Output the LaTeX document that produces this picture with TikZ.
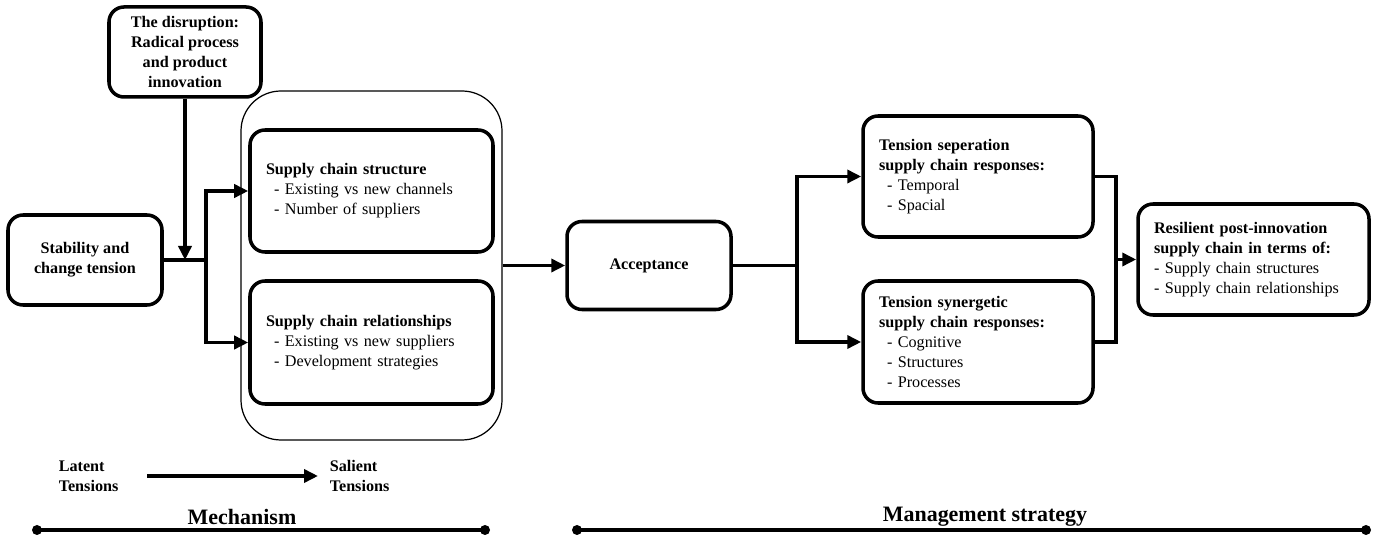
\documentclass[tikz,border=0pt]{standalone}
\usepackage{fontspec}
\setmainfont{Liberation Serif}
\usetikzlibrary{positioning,arrows.meta}

\begin{document}
\begin{tikzpicture}[>={Triangle[length=0.28cm,width=0.26cm]},line width=2pt,
  font=\fontsize{9.2}{11.4}\selectfont,
  box/.style={draw,rounded corners=0.3cm,align=center,font=\bfseries\fontsize{9.2}{11.4}\selectfont},
  list/.style={draw,rounded corners=0.3cm,align=left,inner xsep=0.32cm,text width=#1},
  tag/.style={align=left,inner sep=0pt,font=\bfseries\fontsize{9.2}{11.4}\selectfont},
  phase/.style={font=\bfseries\fontsize{12.5}{14}\selectfont}]
  \useasboundingbox (0,0) rectangle (27.54,-10.78);
  % mechanism side
  \node[box,minimum width=3.08cm,minimum height=1.8cm] (stab) at (1.70,-5.20) {Stability and\\change tension};
  \node[box,minimum width=3.04cm,minimum height=1.8cm] (dis) at (3.70,-1.04) {The disruption:\\Radical process\\and product\\innovation};
  \node[draw,line width=0.7pt,rounded corners=0.8cm,minimum width=5.22cm,minimum height=6.98cm] (outer) at (7.43,-5.31) {};
  \node[list=4.22cm,minimum height=2.44cm] (scs) at (7.43,-3.82) {{\bfseries Supply chain structure}\\
    \hspace*{0.5em}- Existing vs new channels\\
    \hspace*{0.5em}- Number of suppliers};
  \node[list=4.22cm,minimum height=2.46cm] (scr) at (7.43,-6.85) {{\bfseries Supply chain relationships}\\
    \hspace*{0.5em}- Existing vs new suppliers\\
    \hspace*{0.5em}- Development strategies};
  % management side
  \node[box,minimum width=3.28cm,minimum height=1.76cm] (acc) at (12.98,-5.31) {Acceptance};
  \node[list=3.96cm,minimum height=2.42cm] (sep) at (19.56,-3.53) {{\bfseries Tension seperation\\supply chain responses:}\\
    \hspace*{0.5em}- Temporal\\
    \hspace*{0.5em}- Spacial};
  \node[list=3.96cm,minimum height=2.44cm] (syn) at (19.56,-6.84) {{\bfseries Tension synergetic\\supply chain responses:}\\
    \hspace*{0.5em}- Cognitive\\
    \hspace*{0.5em}- Structures\\
    \hspace*{0.5em}- Processes};
  \node[list=3.98cm,minimum height=2.22cm] (res) at (25.07,-5.19) {{\bfseries Resilient post-innovation\\supply chain in terms of:}\\
    - Supply chain structures\\
    - Supply chain relationships};
  \coordinate (j1) at (4.12,-5.20);
  \coordinate (hit) at (dis.south |- stab.east);
  \coordinate (j2) at (15.94,-5.31);
  \coordinate (j3) at (22.32,-5.19);
  \draw (stab) -- (j1);
  \draw[->] (dis) -- (hit);
  \draw[->] (j1) |- (scs);
  \draw[->] (j1) |- (scr);
  \draw[->] (outer) -- (acc);
  \draw (acc) -- (j2);
  \draw[->] (j2) |- (sep);
  \draw[->] (j2) |- (syn);
  \draw (sep) -| (j3) |- (syn);
  \draw[->] (j3) -- (res);
  % bottom
  \node[tag,anchor=west] (lat) at (1.14,-9.52) {Latent\\Tensions};
  \node[tag,anchor=west] (sal) at (6.56,-9.52) {Salient\\Tensions};
  \draw[->,shorten <=0.54cm,shorten >=0.2cm] (lat) -- (sal);
  \node[phase] (mech) at (4.84,-10.34) {Mechanism};
  \node[phase] (mgmt) at (19.70,-10.34) {Management strategy};
  \coordinate (m1) at (0.74,-10.60);
  \coordinate (m2) at (9.70,-10.60);
  \coordinate (g1) at (11.54,-10.60);
  \coordinate (g2) at (27.32,-10.60);
  \draw (m1) -- (m2);
  \draw (g1) -- (g2);
  \foreach \p in {m1,m2,g1,g2}
    \fill (\p) circle (0.1);
\end{tikzpicture}
\end{document}
